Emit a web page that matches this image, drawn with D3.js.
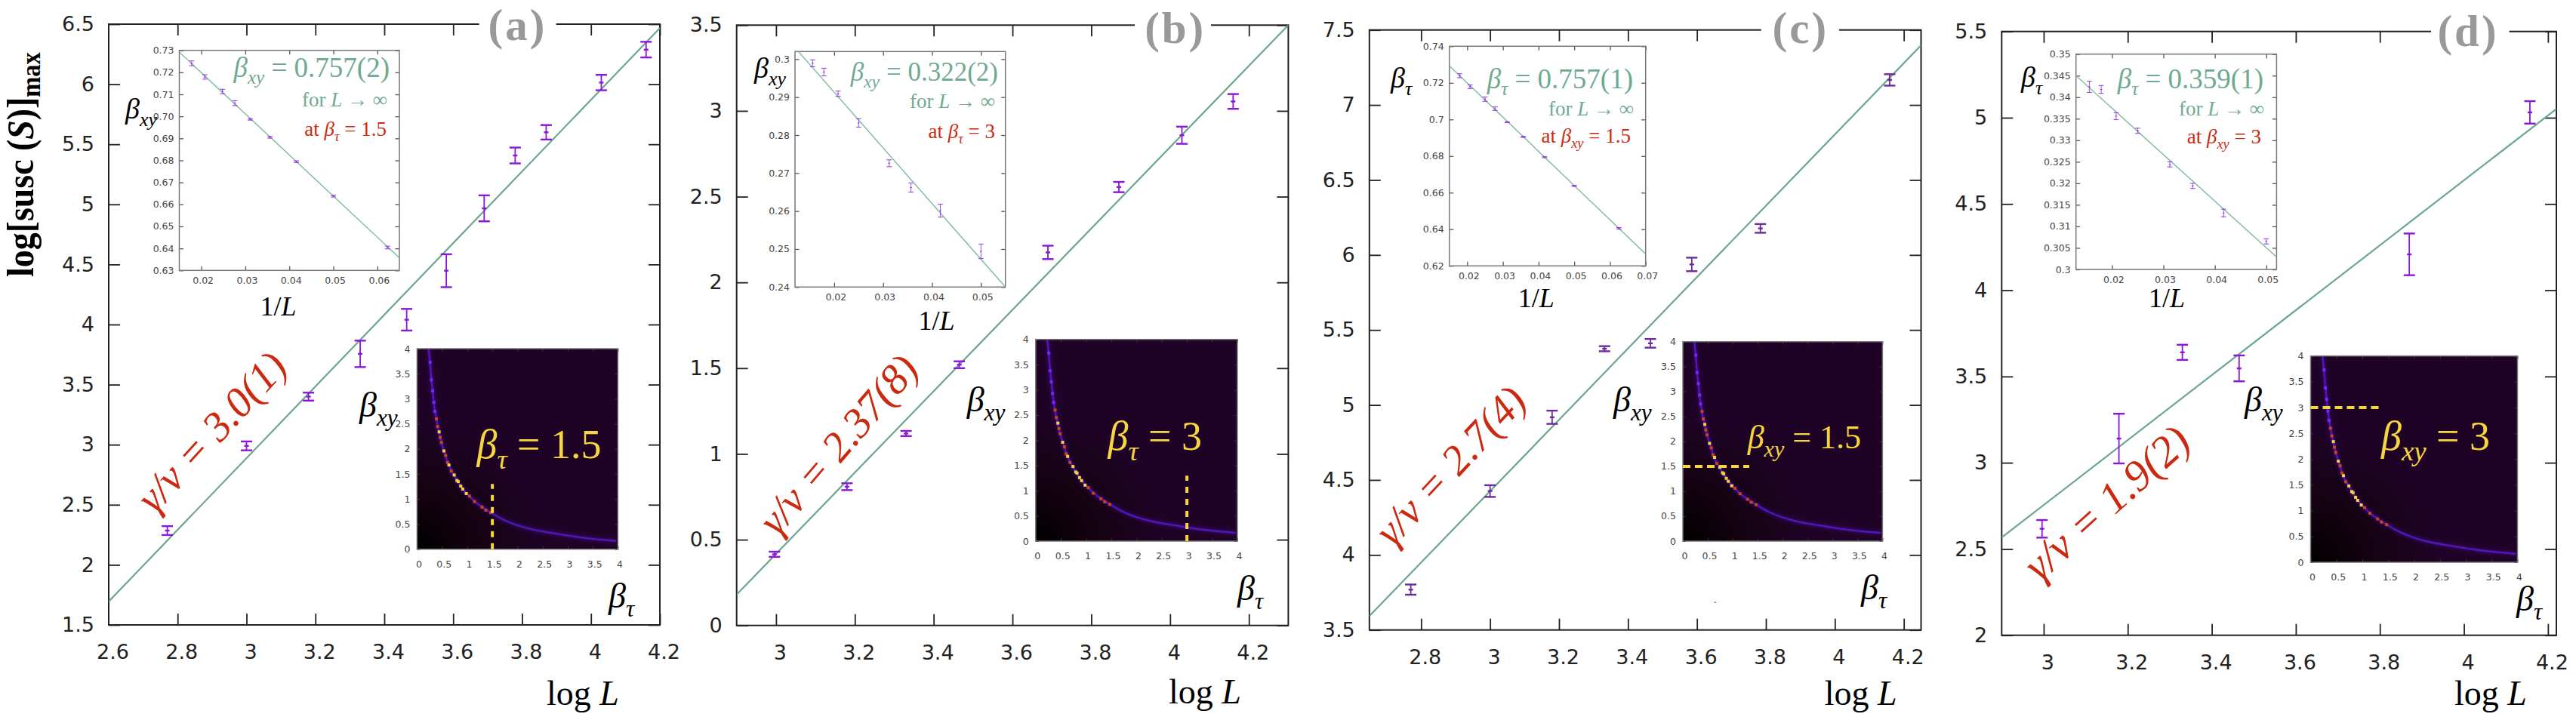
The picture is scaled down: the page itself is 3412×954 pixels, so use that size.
<!DOCTYPE html>
<html>
<head>
<meta charset="utf-8">
<script src="https://cdn.jsdelivr.net/npm/d3@7"></script>
<style>
  html, body { margin: 0; background: #fff; }
  svg { display: block; }
  text { font-family: "Liberation Serif", serif; }
  .tick text { font-family: "DejaVu Sans", sans-serif; }
</style>
</head>
<body>
<svg id="vis" width="3412" height="954"></svg>
<script>
// main plots: log L vs log[susc(S)]max, value and half height of the error bar
const aLogL = [2.77, 3.0, 3.18, 3.33, 3.465, 3.58, 3.69, 3.78, 3.87, 4.03, 4.16];
const aSusc = [2.285, 2.99, 3.40, 3.756, 4.04, 4.448, 4.967, 5.407, 5.60, 6.014, 6.288];
const aSuscErr = [0.037, 0.037, 0.033, 0.11, 0.09, 0.137, 0.108, 0.066, 0.06, 0.064, 0.065];
const aFitX = [2.6, 4.2];
const aFitY = [1.695, 6.467];

const bLogL = [2.996, 3.18, 3.33, 3.465, 3.69, 3.87, 4.03, 4.16];
const bSusc = [0.415, 0.809, 1.119, 1.52, 2.175, 2.556, 2.858, 3.055];
const bSuscErr = [0.015, 0.02, 0.015, 0.02, 0.039, 0.03, 0.05, 0.043];
const bFitX = [2.9, 4.3];
const bFitY = [0.18, 3.5];

const cLogL = [2.77, 3.0, 3.18, 3.332, 3.465, 3.585, 3.784, 4.159];
const cSusc = [3.769, 4.426, 4.918, 5.375, 5.411, 5.937, 6.177, 7.167];
const cSuscErr = [0.034, 0.039, 0.044, 0.017, 0.029, 0.045, 0.029, 0.038];
const cFitX = [2.65, 4.25];
const cFitY = [3.593, 7.398];

const dLogL = [2.996, 3.179, 3.33, 3.465, 3.87, 4.157];
const dSusc = [2.617, 3.14, 3.64, 3.547, 4.208, 5.031];
const dSuscErr = [0.051, 0.144, 0.044, 0.075, 0.121, 0.065];
const dFitX = [2.9, 4.22];
const dFitY = [2.567, 5.051];

// small insets: 1/L vs critical beta
const aInvL = [0.0178, 0.0208, 0.0248, 0.0276, 0.0311, 0.0356, 0.0416, 0.05, 0.0623];
const aBeta = [0.7241, 0.7179, 0.7113, 0.706, 0.6986, 0.6905, 0.6794, 0.6638, 0.6404];
const aBetaErr = [0.0011, 0.001, 0.001, 0.0011, 0.0003, 0.0004, 0.0004, 0.0004, 0.0006];
const aInsetFitX = [0.015, 0.065];
const aInsetFitY = [0.7292, 0.6357];

const bInvL = [0.0156, 0.0179, 0.0208, 0.025, 0.03125, 0.0357, 0.0417, 0.05];
const bBeta = [0.2989, 0.2966, 0.2909, 0.2832, 0.2726, 0.2662, 0.2601, 0.2494];
const bBetaErr = [0.0009, 0.001, 0.0007, 0.0011, 0.0009, 0.0012, 0.0017, 0.0019];
const bInsetFitX = [0.0127, 0.055];
const bInsetFitY = [0.302, 0.24];

const cInvL = [0.0179, 0.0208, 0.025, 0.0278, 0.0312, 0.0357, 0.0417, 0.05, 0.0625];
const cBeta = [0.7239, 0.7179, 0.7111, 0.7059, 0.6985, 0.6905, 0.6794, 0.6637, 0.6405];
const cBetaErr = [0.0011, 0.001, 0.0012, 0.001, 0.0002, 0.0003, 0.0003, 0.0003, 0.0004];
const cInsetFitX = [0.015, 0.07];
const cInsetFitY = [0.7293, 0.6265];

const dInvL = [0.0156, 0.0179, 0.0208, 0.025, 0.03125, 0.0357, 0.0417, 0.05];
const dBeta = [0.3424, 0.3418, 0.3356, 0.3322, 0.3244, 0.3194, 0.3131, 0.3065];
const dBetaErr = [0.0013, 0.0009, 0.0008, 0.0006, 0.0006, 0.0006, 0.0009, 0.0006];
const dInsetFitX = [0.013, 0.052];
const dInsetFitY = [0.345, 0.3029];

// phase diagram inset, the same ridge in all four panels
const ridgeTau = [0.23, 0.26, 0.285, 0.31, 0.335, 0.355, 0.385, 0.41, 0.44, 0.46, 0.485, 0.535, 0.57, 0.605, 0.68, 0.74, 0.795, 0.87, 0.98, 1.045, 1.145, 1.295, 1.47, 1.72, 1.97, 2.32, 2.72, 3.12, 3.52, 3.97];
const ridgeXy = [4.0, 3.73, 3.38, 3.16, 2.93, 2.75, 2.6, 2.45, 2.33, 2.23, 2.13, 1.96, 1.87, 1.73, 1.56, 1.48, 1.37, 1.26, 1.11, 1.06, 0.95, 0.84, 0.73, 0.58, 0.48, 0.38, 0.32, 0.25, 0.2, 0.165];
const hotTau = [0.26, 0.285, 0.31, 0.335, 0.355, 0.385, 0.41, 0.44, 0.46, 0.485, 0.535, 0.57, 0.605, 0.635, 0.68, 0.74, 0.795, 0.82, 0.87, 0.91, 0.98, 1.045, 1.145, 1.295, 1.37, 1.47];
const hotXy = [3.73, 3.38, 3.16, 2.93, 2.75, 2.60, 2.45, 2.34, 2.23, 2.13, 1.96, 1.87, 1.73, 1.68, 1.56, 1.48, 1.37, 1.35, 1.26, 1.20, 1.11, 1.06, 0.95, 0.84, 0.78, 0.73];
const hotLevel = [0, 0, 0, 0, 0, 1, 1, 2, 1, 1, 2, 1, 1, 2, 1, 2, 2, 2, 2, 2, 2, 1, 1, 1, 1, 1];
const heatTicks = [0, 0.5, 1, 1.5, 2, 2.5, 3, 3.5, 4];

const purple = "#8a16d8";
const green = "#6ba78d";
const insetGreen = "#6fa98f";
const red = "#cc2a10";
const yellow = "#f6d640";
const hotColor = d3.scaleOrdinal([0, 1, 2], ["#7a22ff", "#c8421e", "#f4d23c"]);

const panels = [
  { name: "(a)", nameX: 685.5, nameY: 53, gap: [634.6, 736.7],
    frame: [144, 874, 32, 828], xDomain: [2.6, 4.2], yDomain: [1.5, 6.5],
    xTicks: [2.8, 3, 3.2, 3.4, 3.6, 3.8, 4, 4.2], xLabels: [2.6, 2.8, 3, 3.2, 3.4, 3.6, 3.8, 4, 4.2],
    yTicks: d3.range(1.5, 6.6, 0.5),
    logL: aLogL, susc: aSusc, err: aSuscErr, fitX: aFitX, fitY: aFitY, barColor: purple,
    logLabel: [724, 934],
    exponent: { text: "γ/ν = 3.0(1)", x: 205, y: 682, angle: -47.5, size: 56 },
    inset: { frame: [237.5, 529, 66.7, 358.3], xDomain: [0.015, 0.065], yDomain: [0.63, 0.73],
      xTicks: d3.range(0.02, 0.061, 0.01), yTicks: d3.range(0.63, 0.731, 0.01), yFmt: ".2f",
      invL: aInvL, beta: aBeta, err: aBetaErr, fitX: aInsetFitX, fitY: aInsetFitY,
      yLabel: ["xy", 166, 157], xLabel: [344.5, 418],
      title: { sub: "xy", value: "0.757(2)", x: 516, y: 101.7, size: 37 },
      forY: [513, 141], at: { sub: "τ", value: "1.5", x: 512, y: 180 } },
    heat: { frame: [552.4, 818.4, 462, 727.7], xyLabel: [476, 552], tauLabel: [806, 805],
      note: { sub: "τ", value: "1.5", x: 796.5, y: 607, size: 54 }, dashX: [1.5, 1.5], dashY: [0, 1.3], dash: "8,8" } },
  { name: "(b)", nameX: 1556.7, nameY: 56.7, gap: [1503, 1604],
    frame: [975.7, 1706.4, 33.3, 828.7], xDomain: [2.9, 4.3], yDomain: [0, 3.5],
    xTicks: [3, 3.2, 3.4, 3.6, 3.8, 4, 4.2], xLabels: [3, 3.2, 3.4, 3.6, 3.8, 4, 4.2],
    yTicks: d3.range(0, 3.6, 0.5),
    logL: bLogL, susc: bSusc, err: bSuscErr, fitX: bFitX, fitY: bFitY, barColor: purple,
    logLabel: [1548, 932],
    exponent: { text: "γ/ν = 2.37(8)", x: 1030, y: 712, angle: -49.5, size: 56 },
    inset: { frame: [1053, 1331.7, 68.3, 380.3], xDomain: [0.012, 0.055], yDomain: [0.24, 0.302],
      xTicks: d3.range(0.02, 0.051, 0.01), yTicks: d3.range(0.24, 0.301, 0.01), yFmt: "~g",
      invL: bInvL, beta: bBeta, err: bBetaErr, fitX: bInsetFitX, fitY: bInsetFitY,
      yLabel: ["xy", 999, 103], xLabel: [1216.6, 436.7],
      title: { sub: "xy", value: "0.322(2)", x: 1322, y: 106.7, size: 35 },
      forY: [1318, 143], at: { sub: "τ", value: "3", x: 1318, y: 182.7 } },
    heat: { frame: [1371.8, 1638.9, 449.7, 717], xyLabel: [1280.7, 545], tauLabel: [1639, 795],
      note: { sub: "τ", value: "3", x: 1592, y: 596, size: 54 }, dashX: [3, 3], dashY: [0, 1.3], dash: "8,8" } },
  { name: "(c)", nameX: 2384.8, nameY: 56.7, gap: [2332.7, 2435.8],
    frame: [1813.8, 2544.5, 39.7, 834.7], xDomain: [2.65, 4.25], yDomain: [3.5, 7.5],
    xTicks: [2.8, 3, 3.2, 3.4, 3.6, 3.8, 4, 4.2], xLabels: [2.8, 3, 3.2, 3.4, 3.6, 3.8, 4, 4.2],
    yTicks: d3.range(3.5, 7.6, 0.5),
    logL: cLogL, susc: cSusc, err: cSuscErr, fitX: cFitX, fitY: cFitY, barColor: "#6b2a9e",
    logLabel: [2416.7, 933.7],
    exponent: { text: "γ/ν = 2.7(4)", x: 1845, y: 726, angle: -47, size: 56 },
    inset: { frame: [1919.7, 2179.7, 61.3, 352.3], xDomain: [0.015, 0.07], yDomain: [0.62, 0.74],
      xTicks: d3.range(0.02, 0.071, 0.01), yTicks: d3.range(0.62, 0.741, 0.02), yFmt: "~g",
      invL: cInvL, beta: cBeta, err: cBetaErr, fitX: cInsetFitX, fitY: cInsetFitY,
      yLabel: ["τ", 1842, 116], xLabel: [2010.7, 407],
      title: { sub: "τ", value: "0.757(1)", x: 2163, y: 116.7, size: 37 },
      forY: [2164, 152.7], at: { sub: "xy", value: "1.5", x: 2160, y: 189 } },
    heat: { frame: [2229, 2493.4, 452.7, 717], xyLabel: [2137, 545], tauLabel: [2465, 793.7],
      note: { sub: "xy", value: "1.5", x: 2465, y: 594, size: 44 }, dashX: [0, 1.33], dashY: [1.5, 1.5], dash: "10,6" } },
  { name: "(d)", nameX: 3269, nameY: 60.7, gap: [3220, 3323.6],
    frame: [2651.3, 3386, 41.7, 841.7], xDomain: [2.9, 4.22], yDomain: [2, 5.5],
    xTicks: [3, 3.2, 3.4, 3.6, 3.8, 4, 4.2], xLabels: [3, 3.2, 3.4, 3.6, 3.8, 4, 4.2],
    yTicks: d3.range(2, 5.6, 0.5),
    logL: dLogL, susc: dSusc, err: dSuscErr, fitX: dFitX, fitY: dFitY, barColor: purple,
    logLabel: [3251, 933.7],
    exponent: { text: "γ/ν = 1.9(2)", x: 2702, y: 772, angle: -42, size: 58 },
    inset: { frame: [2749.7, 3015.4, 71.7, 357], xDomain: [0.013, 0.052], yDomain: [0.3, 0.35],
      xTicks: d3.range(0.02, 0.051, 0.01), yTicks: d3.range(0.3, 0.351, 0.005), yFmt: "~g",
      invL: dInvL, beta: dBeta, err: dBetaErr, fitX: dInsetFitX, fitY: dInsetFitY,
      yLabel: ["τ", 2677, 115], xLabel: [2846, 407],
      title: { sub: "τ", value: "0.359(1)", x: 2998, y: 116.7, size: 37 },
      forY: [2999, 152.7], at: { sub: "xy", value: "3", x: 2995, y: 190 } },
    heat: { frame: [3060.5, 3334.5, 471.7, 745], xyLabel: [2973, 545], tauLabel: [3333, 808.7],
      note: { sub: "xy", value: "3", x: 3298, y: 596, size: 54 }, dashX: [0, 1.33], dashY: [3, 3], dash: "10,6" } }
];

const svg = d3.select("#vis");
const defs = svg.append("defs");

const glow = defs.append("filter").attr("id", "glow")
  .attr("x", "-20%").attr("y", "-20%").attr("width", "140%").attr("height", "140%");
glow.append("feGaussianBlur").attr("stdDeviation", 2.4);
const soft = defs.append("filter").attr("id", "soft")
  .attr("x", "-10%").attr("y", "-10%").attr("width", "120%").attr("height", "120%");
soft.append("feGaussianBlur").attr("stdDeviation", 0.7);

const corner = defs.append("radialGradient").attr("id", "heatCorner")
  .attr("cx", 0).attr("cy", 1).attr("r", 0.62);
corner.append("stop").attr("offset", 0).attr("stop-color", "#000");
corner.append("stop").attr("offset", 0.45).attr("stop-color", "#140210");
corner.append("stop").attr("offset", 1).attr("stop-color", "#1f0326");

// parts: [string, "r" upright | "i" italic | "s" italic subscript]
function richText(parent, x, y, size, anchor, fill, parts) {
  const text = parent.append("text").attr("x", x).attr("y", y)
    .attr("font-size", size).attr("text-anchor", anchor).attr("fill", fill);
  let shift = 0;
  parts.forEach(([str, kind]) => {
    const want = kind === "s" ? size * 0.26 : 0;
    text.append("tspan")
      .attr("dy", want - shift)
      .attr("font-style", kind === "r" ? "normal" : "italic")
      .attr("font-size", kind === "s" ? size * 0.68 : size)
      .text(str);
    shift = want;
  });
  return text;
}

function fourSideAxes(g, x, y, frame, o) {
  const [left, right, top, bottom] = frame;
  const style = (sel) => {
    sel.select(".domain").remove();
    sel.selectAll(".tick line").attr("stroke", o.tickColor).attr("stroke-width", o.tickWidth);
    sel.selectAll(".tick text").attr("fill", o.textColor).attr("font-size", o.fontSize);
  };
  const xFmt = o.xFmt || ((t) => t);
  const yFmt = o.yFmt || ((t) => t);

  g.append("g").attr("transform", `translate(0,${bottom})`)
    .call(d3.axisBottom(x).tickValues(o.xLabels).tickSize(0).tickPadding(o.xPad).tickFormat(xFmt))
    .call(style)
    .call((s) => s.selectAll(".tick text").attr("dx", o.xShift));
  g.append("g").attr("transform", `translate(0,${bottom})`)
    .call(d3.axisBottom(x).tickValues(o.xTicks).tickSize(-o.tickLen).tickFormat(""))
    .call(style);
  g.append("g").attr("transform", `translate(0,${top})`)
    .call(d3.axisTop(x).tickValues(o.xTicks).tickSize(-o.tickLen).tickFormat(""))
    .call(style);
  g.append("g").attr("transform", `translate(${left},0)`)
    .call(d3.axisLeft(y).tickValues(o.yTicks).tickSize(-o.tickLen).tickPadding(o.yPad).tickFormat(yFmt))
    .call(style)
    .call((s) => s.selectAll(".tick text").attr("x", -o.yPad));
  g.append("g").attr("transform", `translate(${right},0)`)
    .call(d3.axisRight(y).tickValues(o.yTicks).tickSize(-o.tickLen).tickFormat(""))
    .call(style);
}

function errorBars(g, x, y, xs, ys, errs, o) {
  const bars = g.append("g").selectAll("g")
    .data(xs.map((v, i) => ({ x: v, y: ys[i], e: errs[i] })))
    .join("g")
    .attr("stroke", o.color)
    .attr("stroke-opacity", o.opacity);
  bars.append("line")
    .attr("x1", (d) => x(d.x)).attr("x2", (d) => x(d.x))
    .attr("y1", (d) => y(d.y - d.e)).attr("y2", (d) => y(d.y + d.e))
    .attr("stroke-width", o.stem);
  [-1, 1].forEach((sign) => {
    bars.append("line")
      .attr("x1", (d) => x(d.x) - o.cap).attr("x2", (d) => x(d.x) + o.cap)
      .attr("y1", (d) => y(d.y + sign * d.e)).attr("y2", (d) => y(d.y + sign * d.e))
      .attr("stroke-width", o.capWidth);
  });
  bars.append("line")
    .attr("x1", (d) => x(d.x) - o.mid).attr("x2", (d) => x(d.x) + o.mid)
    .attr("y1", (d) => y(d.y)).attr("y2", (d) => y(d.y))
    .attr("stroke-width", o.capWidth);
}

function fitLine(g, x, y, xs, ys, color, width, clipId) {
  g.append("path")
    .datum(xs.map((v, i) => [v, ys[i]]))
    .attr("clip-path", `url(#${clipId})`)
    .attr("fill", "none").attr("stroke", color).attr("stroke-width", width)
    .attr("d", d3.line().x((d) => x(d[0])).y((d) => y(d[1])));
}

function addClip(id, [left, right, top, bottom]) {
  defs.append("clipPath").attr("id", id).append("rect")
    .attr("x", left).attr("y", top).attr("width", right - left).attr("height", bottom - top);
}

function drawInset(g, inset, id) {
  const [left, right, top, bottom] = inset.frame;
  const x = d3.scaleLinear().domain(inset.xDomain).range([left, right]);
  const y = d3.scaleLinear().domain(inset.yDomain).range([bottom, top]);
  addClip(id, inset.frame);

  fourSideAxes(g, x, y, inset.frame, {
    xTicks: inset.xTicks, xLabels: inset.xTicks, yTicks: inset.yTicks,
    tickLen: 5.5, tickColor: "#555", tickWidth: 1.3, textColor: "#444", fontSize: 12.5,
    xPad: 9, yPad: 7, xShift: 2,
    xFmt: d3.format(".2f"), yFmt: d3.format(inset.yFmt)
  });
  g.append("rect").attr("x", left).attr("y", top)
    .attr("width", right - left).attr("height", bottom - top)
    .attr("fill", "none").attr("stroke", "#777").attr("stroke-width", 1.5);

  fitLine(g, x, y, inset.fitX, inset.fitY, "#7fb9a1", 1.4, id);
  errorBars(g, x, y, inset.invL, inset.beta, inset.err, {
    color: "#8a2be2", opacity: 0.8, stem: 1, cap: 3.4, capWidth: 1.2, mid: 1.4
  });

  richText(g, inset.yLabel[1], inset.yLabel[2], 38, "start", "#000", [["β", "i"], [inset.yLabel[0], "s"]]);
  richText(g, inset.xLabel[0], inset.xLabel[1], 36, "start", "#000", [["1/", "r"], ["L", "i"]]);

  const t = inset.title;
  richText(g, t.x, t.y, t.size, "end", insetGreen,
    [["β", "i"], [t.sub, "s"], [" = " + t.value, "r"]]);
  richText(g, inset.forY[0], inset.forY[1], 27, "end", insetGreen,
    [["for ", "r"], ["L", "i"], [" → ∞", "r"]]);
  richText(g, inset.at.x, inset.at.y, 27, "end", red,
    [["at ", "r"], ["β", "i"], [inset.at.sub, "s"], [" = " + inset.at.value, "r"]]);
}

function drawHeat(g, heat, id) {
  const [left, right, top, bottom] = heat.frame;
  const x = d3.scaleLinear().domain([0, 4]).range([left, right]);
  const y = d3.scaleLinear().domain([0, 4]).range([bottom, top]);
  addClip(id, heat.frame);

  g.append("rect").attr("x", left).attr("y", top)
    .attr("width", right - left).attr("height", bottom - top)
    .attr("fill", "url(#heatCorner)");

  const ridge = d3.line().curve(d3.curveBasis)
    .x((d) => x(d[0])).y((d) => y(d[1]));
  const ridgeData = ridgeTau.map((v, i) => [v, ridgeXy[i]]);
  const inner = g.append("g").attr("clip-path", `url(#${id})`);
  inner.append("path").datum(ridgeData).attr("d", ridge).attr("fill", "none")
    .attr("stroke", "#3a0c80").attr("stroke-width", 6).attr("stroke-opacity", 0.6)
    .attr("filter", "url(#glow)");
  inner.append("path").datum(ridgeData).attr("d", ridge).attr("fill", "none")
    .attr("stroke", "#5512c4").attr("stroke-width", 2.2).attr("filter", "url(#soft)");
  inner.selectAll("rect.hot")
    .data(hotTau.map((v, i) => ({ x: v, y: hotXy[i], level: hotLevel[i] })))
    .join("rect")
    .attr("class", "hot")
    .attr("x", (d) => x(d.x) - 2).attr("y", (d) => y(d.y) - 2)
    .attr("width", 4).attr("height", 4)
    .attr("fill", (d) => hotColor(d.level));

  fourSideAxes(g, x, y, heat.frame, {
    xTicks: heatTicks, xLabels: heatTicks, yTicks: heatTicks,
    tickLen: 4, tickColor: "#333", tickWidth: 1, textColor: "#444", fontSize: 12.5,
    xPad: 15, yPad: 9, xShift: 2
  });
  g.append("rect").attr("x", left).attr("y", top)
    .attr("width", right - left).attr("height", bottom - top)
    .attr("fill", "none").attr("stroke", "#777").attr("stroke-width", 1.5);

  g.append("line")
    .attr("x1", x(heat.dashX[0])).attr("x2", x(heat.dashX[1]))
    .attr("y1", y(heat.dashY[0])).attr("y2", y(heat.dashY[1]))
    .attr("stroke", yellow).attr("stroke-width", 4).attr("stroke-dasharray", heat.dash);

  richText(g, heat.xyLabel[0], heat.xyLabel[1], 46, "start", "#000", [["β", "i"], ["xy", "s"]]);
  richText(g, heat.tauLabel[0], heat.tauLabel[1], 46, "start", "#000", [["β", "i"], ["τ", "s"]]);

  const n = heat.note;
  richText(g, n.x, n.y, n.size, "end", yellow,
    [["β", "i"], [n.sub, "s"], [" = " + n.value, "r"]]);
}

function drawPanel(panel, index) {
  const [left, right, top, bottom] = panel.frame;
  const x = d3.scaleLinear().domain(panel.xDomain).range([left, right]);
  const y = d3.scaleLinear().domain(panel.yDomain).range([bottom, top]);
  const g = svg.append("g").attr("class", `panel-${index}`);
  const clipId = `frame-${index}`;
  addClip(clipId, panel.frame);

  fourSideAxes(g, x, y, panel.frame, {
    xTicks: panel.xTicks, xLabels: panel.xLabels, yTicks: panel.yTicks,
    tickLen: 15, tickColor: "#222", tickWidth: 1.8, textColor: "#222", fontSize: 27,
    xPad: 26, yPad: 19, xShift: 5
  });
  g.append("rect").attr("x", left).attr("y", top)
    .attr("width", right - left).attr("height", bottom - top)
    .attr("fill", "none").attr("stroke", "#222").attr("stroke-width", 2);

  // panel letter hides the top frame line and any tick marks under it
  g.append("rect").attr("x", panel.gap[0]).attr("y", top - 4)
    .attr("width", panel.gap[1] - panel.gap[0]).attr("height", 21).attr("fill", "#fff");
  g.append("text").attr("x", panel.nameX).attr("y", panel.nameY)
    .attr("text-anchor", "middle").attr("font-size", 59).attr("font-weight", "bold")
    .attr("letter-spacing", 3).attr("fill", "#999").text(panel.name);

  fitLine(g, x, y, panel.fitX, panel.fitY, green, 2.2, clipId);
  errorBars(g, x, y, panel.logL, panel.susc, panel.err, {
    color: panel.barColor, opacity: 1, stem: 1.8, cap: 7.5, capWidth: 2.4, mid: 3
  });

  const ex = panel.exponent;
  g.append("text")
    .attr("transform", `translate(${ex.x},${ex.y}) rotate(${ex.angle})`)
    .attr("font-size", ex.size).attr("font-style", "italic").attr("fill", red)
    .text(ex.text);

  richText(g, panel.logLabel[0], panel.logLabel[1], 46, "start", "#000",
    [["log ", "r"], ["L", "i"]]);

  drawInset(g, panel.inset, `inset-${index}`);
  drawHeat(g, panel.heat, `heat-${index}`);
}

panels.forEach(drawPanel);

// y title only on the first panel
const yTitle = svg.append("text")
  .attr("transform", "translate(44,367) rotate(-90) scale(0.9,1)")
  .attr("font-size", 51).attr("font-weight", "bold").attr("fill", "#000");
yTitle.append("tspan").text("log[susc (");
yTitle.append("tspan").attr("font-style", "italic").text("S");
yTitle.append("tspan").text(")]");
yTitle.append("tspan").attr("font-size", 36).attr("dy", 9).text("max");

// stray speck next to panel (c) in the original
svg.append("text").attr("x", 2270).attr("y", 799).attr("font-size", 14).attr("fill", "#333").text(".");
</script>
</body>
</html>
